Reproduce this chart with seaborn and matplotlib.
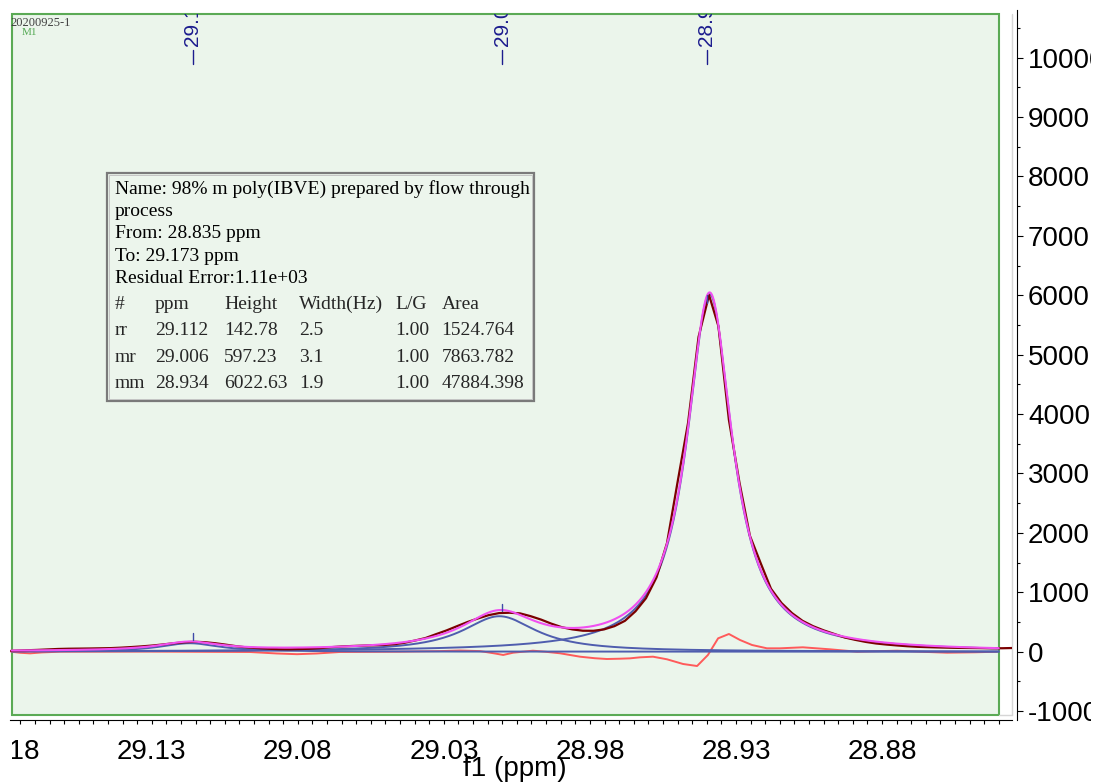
import textwrap

import numpy as np
import pandas as pd
import matplotlib
matplotlib.use("Agg")
import matplotlib.pyplot as plt
import matplotlib.ticker as mticker
from matplotlib.patches import Rectangle
from matplotlib.transforms import Bbox, TransformedBbox, blended_transform_factory
import seaborn as sns

# ---------------------------------------------------------------------------
# 13C spectrum (f1, ppm) and intensity
spec_ppm = [29.1732, 29.1715, 29.1679, 29.1643, 29.1607, 29.1571, 29.1535, 29.1499,
            29.1463, 29.1427, 29.1392, 29.1356, 29.1320, 29.1284, 29.1248, 29.1212,
            29.1176, 29.1140, 29.1104, 29.1068, 29.1032, 29.0996, 29.0960, 29.0924,
            29.0888, 29.0852, 29.0816, 29.0780, 29.0744, 29.0708, 29.0673, 29.0637,
            29.0601, 29.0565, 29.0529, 29.0493, 29.0457, 29.0421, 29.0385, 29.0349,
            29.0313, 29.0277, 29.0241, 29.0205, 29.0169, 29.0133, 29.0097, 29.0061,
            29.0025, 28.9989, 28.9953, 28.9917, 28.9882, 28.9846, 28.9810, 28.9774,
            28.9738, 28.9702, 28.9666, 28.9630, 28.9594, 28.9558, 28.9522, 28.9486,
            28.9450, 28.9414, 28.9378, 28.9342, 28.9310, 28.9274, 28.9238, 28.9202,
            28.9166, 28.9130, 28.9094, 28.9058, 28.9022, 28.8986, 28.8950, 28.8914,
            28.8878, 28.8842, 28.8806, 28.8770, 28.8734, 28.8698, 28.8663, 28.8627,
            28.8591, 28.8555, 28.8519, 28.8483, 28.8447, 28.8411, 28.8375, 28.8339,
            28.8303]
spec_int = [15, 18, 24, 30, 38, 46, 50, 52,
            54, 57, 60, 68, 78, 90, 104, 122,
            142, 158, 167, 160, 142, 118, 92, 72,
            60, 50, 42, 40, 44, 50, 60, 76,
            88, 96, 102, 108, 113, 125, 150, 188,
            230, 295, 358, 430, 500, 560, 615, 650,
            656, 645, 598, 540, 472, 412, 375, 353,
            352, 375, 430, 520, 680, 900, 1250, 1830,
            2850, 3850, 5300, 6003, 5480, 3900, 2850, 1950,
            1500, 1060, 820, 650, 520, 430, 360, 300,
            240, 200, 165, 138, 120, 105, 92, 82,
            76, 71, 67, 64, 62, 60, 58, 58,
            62]

# residual of the line fit
resid_ppm = [29.1732, 29.1701, 29.1667, 29.1626, 29.1564, 29.1256, 29.0914, 29.0822,
             29.0753, 29.0685, 29.0607, 29.0400, 29.0263, 29.0195, 29.0126, 29.0075,
             29.0047, 29.0013, 28.9945, 28.9904, 28.9852, 28.9784, 28.9733, 28.9692,
             28.9647, 28.9613, 28.9579, 28.9534, 28.9486, 28.9431, 28.9383, 28.9346,
             28.9311, 28.9274, 28.9236, 28.9195, 28.9144, 28.9099, 28.9021, 28.8928,
             28.8835, 28.8698, 28.8620, 28.8527, 28.8431, 28.8356]
resid_int = [0, -18, -28, -12, 0, 2, -5, -30,
             -42, -30, -5, 0, 10, 20, 10, -30,
             -55, -17, 17, 0, -27, -84, -110, -123,
             -118, -112, -95, -84, -128, -207, -241, -56,
             225, 298, 197, 113, 57, 57, 74, 40,
             0, 17, 0, -17, -10, 0]

# fitted lines (Lorentzian, L/G = 1)
peak_names = ["rr", "mr", "mm"]
peak_ppm = [29.112, 29.006, 28.934]
peak_height = [142.78, 597.23, 6022.63]
peak_width_hz = [2.5, 3.1, 1.9]
peak_lg = [1.00, 1.00, 1.00]
peak_area = [1524.764, 7863.782, 47884.398]

sample_name = "98% m poly(IBVE) prepared by flow through process"
fit_from, fit_to = 28.835, 29.173
residual_error = "1.11e+03"
spectrometer_mhz = 100.6

# peak picking
pick_ppm = [29.111, 29.005, 28.935]

x_ticks = [29.175, 29.125, 29.075, 29.025, 28.975, 28.925, 28.875]
x_tick_labels = ["29.18", "29.13", "29.08", "29.03", "28.98", "28.93", "28.88"]
y_ticks = [-1000, 0, 1000, 2000, 3000, 4000, 5000, 6000, 7000, 8000, 9000, 10000]

# ---------------------------------------------------------------------------
sns.set_theme(style="white")
plt.rcParams["font.family"] = ["Liberation Sans", "DejaVu Sans"]
plt.rcParams["axes.unicode_minus"] = False

W, H = 1094, 784
fig = plt.figure(figsize=(W / 100, H / 100), dpi=100)
fig.patch.set_facecolor("white")


def fx(px):
    return px / W


def fy(py):
    return 1 - py / H


ax = fig.add_axes([fx(2.9), 69 / H, 1009.1 / W, 701 / H])
ax.set_facecolor("white")
xmin, xmax = 29.176, 28.83047
ax.set_xlim(xmin, xmax)
ax.set_ylim(-1065.7, 10735.7)

blend = blended_transform_factory(ax.transData, ax.transAxes)

# fit region
ax.axvspan(fit_from, fit_to, facecolor="#EBF5EB", edgecolor="#5BAA55",
           linewidth=1.5, zorder=0, clip_on=False)
ax.plot([1, 1], [0, 1], transform=ax.transAxes, color="#D6D6D6", lw=1.0,
        clip_on=False, zorder=0.5)
ax.plot([fit_from, xmax], [0, 0], transform=blend, color="#D6D6D6", lw=1.0,
        clip_on=False, zorder=0.5)

# fitted components and their sum
grid = np.linspace(fit_from, fit_to, 1200)
comps = []
for p0, h, w in zip(peak_ppm, peak_height, peak_width_hz):
    hw = w / spectrometer_mhz / 2.0
    comps.append(h / (1.0 + ((grid - p0) / hw) ** 2))
fit_sum = np.sum(comps, axis=0)

spec_df = pd.DataFrame({"ppm": spec_ppm, "intensity": spec_int})
resid_df = pd.DataFrame({"ppm": resid_ppm, "intensity": resid_int})

sns.lineplot(data=resid_df, x="ppm", y="intensity", ax=ax, color="#FF5A5A",
             lw=1.4, estimator=None, zorder=3)
for c in comps:
    sns.lineplot(x=grid, y=c, ax=ax, color="#4F5DAE", lw=1.4, estimator=None, zorder=3.5)
sns.lineplot(data=spec_df, x="ppm", y="intensity", ax=ax, color="#7A0000",
             lw=1.6, estimator=None, zorder=4)
sns.lineplot(x=grid, y=fit_sum, ax=ax, color="#F050F0", lw=1.5, estimator=None, zorder=4.5)

# peak-pick marks on the spectrum and labels along the top
navy = "#1C1C8E"
for p in pick_ppm:
    top = np.interp(p, spec_ppm[::-1], spec_int[::-1])
    ax.plot([p, p], [top + 25, top + 150], color="#3E4AA8", lw=1.0, zorder=5)
    ax.plot([p, p], [0.9287, 0.9486], transform=blend, color=navy, lw=1.0, zorder=5)
    ax.text(p, 0.9544, f"{p:.2f}", transform=blend, rotation=90, ha="center",
            va="bottom", fontsize=15, color=navy, clip_on=True, zorder=5)

# axes styling
for side in ("left", "top"):
    ax.spines[side].set_visible(False)
ax.spines["bottom"].set_position(("outward", 3.6))
ax.spines["bottom"].set_bounds(29.1735, xmax)
ax.spines["right"].set_position(("outward", 3.6))
ax.spines["right"].set_bounds(-1150, 10800)
for side in ("bottom", "right"):
    ax.spines[side].set_color("black")
    ax.spines[side].set_linewidth(0.8)

ax.xaxis.set_ticks_position("bottom")
ax.xaxis.set_major_locator(mticker.FixedLocator(x_ticks))
ax.xaxis.set_major_formatter(mticker.FixedFormatter(x_tick_labels))
ax.xaxis.set_minor_locator(mticker.MultipleLocator(0.005))
ax.tick_params(axis="x", which="both", direction="out", length=3, width=0.8,
               color="black", pad=10.8, labelsize=20, labelcolor="black")

ax.yaxis.tick_right()
ax.yaxis.set_major_locator(mticker.FixedLocator(y_ticks))
ax.yaxis.set_major_formatter(mticker.FixedFormatter([str(v) for v in y_ticks]))
ax.yaxis.set_minor_locator(mticker.MultipleLocator(500))
ax.tick_params(axis="y", which="major", direction="out", length=4, width=0.8,
               color="black", pad=4, labelsize=20, labelcolor="black")
ax.tick_params(axis="y", which="minor", direction="out", length=2, width=0.8,
               color="black")

ax.set_ylabel("")
ax.set_xlabel("f1 (ppm)", fontsize=20, color="black")
ax.xaxis.set_label_coords(0.5075, -0.0585)

# fit report box
box = Rectangle((fx(107), fy(401)), (534 - 107) / W, (401 - 173) / H,
                transform=fig.transFigure, facecolor="#ECF5EC", edgecolor="#7A7A7A",
                linewidth=1.6, zorder=10)
fig.add_artist(box)
inner = Rectangle((fx(109), fy(399)), (532 - 109) / W, (399 - 175) / H,
                  transform=fig.transFigure, facecolor="none", edgecolor="#C4C4C4",
                  linewidth=0.7, zorder=10.5)
fig.add_artist(inner)
serif = ["Liberation Serif", "DejaVu Serif"]
tfs = 14
head_lines = textwrap.wrap("Name: " + sample_name, width=47) + [
    f"From: {fit_from:.3f} ppm",
    f"To: {fit_to:.3f} ppm",
    f"Residual Error:{residual_error}",
]
for s, yb in zip(head_lines, [194.3, 215.7, 238.3, 260.7, 283.3]):
    fig.text(fx(115), fy(yb), s, fontsize=tfs, family=serif, va="baseline",
             color="black", zorder=11)
col_x = [115, 155, 224, 299, 395, 441.7]
header = ["#", "ppm", "Height", "Width(Hz)", "L/G", "Area"]
for s, cx in zip(header, col_x):
    fig.text(fx(cx), fy(309), s, fontsize=tfs, family=serif, va="baseline", zorder=11)
for i, yb in enumerate([335, 361.7, 387.7]):
    row = [peak_names[i], f"{peak_ppm[i]:.3f}", f"{peak_height[i]:.2f}",
           f"{peak_width_hz[i]:.1f}", f"{peak_lg[i]:.2f}", f"{peak_area[i]:.3f}"]
    for s, cx in zip(row, col_x):
        fig.text(fx(cx), fy(yb), s, fontsize=tfs, family=serif, va="baseline", zorder=11)

# spectrum title tags
fig.text(fx(10), fy(26), "20200925-1", fontsize=9, family=serif, color="#404040",
         va="baseline")
fig.text(fx(22), fy(35), "M1", fontsize=8, family=serif, color="#55AA55", va="baseline")

# clip tick labels to the visible strip
fig.canvas.draw()
xclip = TransformedBbox(Bbox.from_extents(fx(12), 0, 1, 1), fig.transFigure)
for lbl in ax.get_xticklabels():
    lbl.set_clip_box(xclip)
    lbl.set_clip_on(True)
yclip = TransformedBbox(Bbox.from_extents(0, 0, fx(1091), 1), fig.transFigure)
for lbl in ax.get_yticklabels():
    lbl.set_clip_box(yclip)
    lbl.set_clip_on(True)
ax.xaxis.get_major_ticks()[0].tick1line.set_visible(False)

fig.savefig("out.png", dpi=100)
